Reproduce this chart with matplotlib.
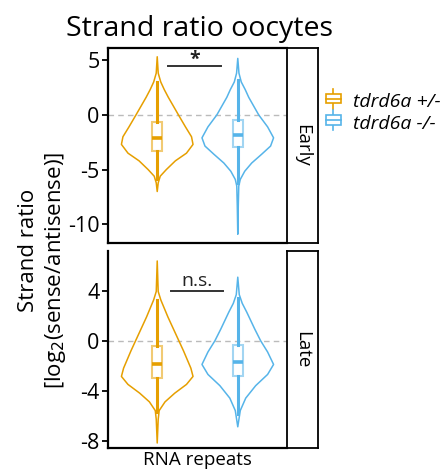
import numpy as np
import matplotlib
matplotlib.use("Agg")
import matplotlib.pyplot as plt
from matplotlib.colors import to_rgba
from matplotlib.legend_handler import HandlerBase
from matplotlib.lines import Line2D
from matplotlib.patches import Rectangle

plt.rcParams['font.family'] = ['Open Sans', 'DejaVu Sans']
plt.rcParams['axes.unicode_minus'] = False

GENOTYPES = ["tdrd6a +/-", "tdrd6a -/-"]
COLORS = ["#E69F00", "#56B4E9"]
STAGES = ["Early", "Late"]

# violin outlines: y value -> relative half-width
early_het_y = [-7.0, -6.2, -5.6, -5.0, -4.2, -3.5, -2.7, -2.0, -1.1, 0.0, 0.8, 1.6, 2.3, 3.0, 3.8, 5.3]
early_het_w = [0.0, 1.0, 3, 9, 18, 29, 35.5, 34, 28, 21, 16, 11, 7, 3.5, 1.0, 0.0]
early_ko_y = [-10.9, -8.3, -6.5, -5.9, -5.15, -4.4, -3.6, -2.85, -2.1, -1.1, 0.0, 0.8, 1.6,
              2.3, 3.0, 3.8, 5.15]
early_ko_w = [0.0, 0.5, 1.0, 2.5, 7, 14, 24, 33, 36, 30, 21, 16, 11, 7.5, 3.5, 1.2, 0.0]
late_het_y = [-8.2, -6.3, -5.6, -4.9, -4.2, -3.5, -2.86, -2.2, -0.82, 0.54, 1.9, 3.27, 3.95, 6.4]
late_het_w = [0.0, 1.0, 2, 8, 18, 30, 36.7, 34.5, 27, 19, 11, 3.7, 1.0, 0.0]
late_ko_y = [-6.9, -5.6, -4.6, -3.6, -2.7, -1.9, -0.9, 0.0, 0.95, 2.3, 3.0, 3.7, 5.1]
late_ko_w = [0.0, 2.5, 8, 18, 30, 36, 30, 23, 17, 9, 4.5, 1.5, 0.0]

# box stats: whisker low, q1, median, q3, whisker high
early_box = [[-5.9, -3.27, -2.12, -0.67, 3.0], [-6.2, -2.94, -1.85, -0.45, 3.2]]
late_box = [[-5.7, -3.0, -1.9, -0.41, 3.27], [-5.85, -2.85, -1.7, -0.35, 3.4]]

sig_labels = ["*", "n.s."]
yticks_top = [5, 0, -5, -10]
yticks_bot = [4, 0, -4, -8]

W, H = 441, 470
fig = plt.figure(figsize=(W / 100, H / 100), dpi=100)


def px_axes(l, t, r, b):
    return fig.add_axes([l / W, 1 - b / H, (r - l) / W, (b - t) / H])


class BoxKey(HandlerBase):
    def create_artists(self, legend, orig_handle, xd, yd, w, h, fontsize, trans):
        c = orig_handle.get_color()
        cx = xd + w / 2
        bw, bh = h * 0.95, h * 0.6
        y0 = yd + (h - bh) / 2
        arts = [
            Line2D([cx, cx], [yd - h * 0.15, y0], color=c, lw=1.2, transform=trans),
            Line2D([cx, cx], [y0 + bh, yd + h * 1.15], color=c, lw=1.2, transform=trans),
            Rectangle((cx - bw / 2, y0), bw, bh, facecolor="white",
                      edgecolor=c, lw=1.2, transform=trans),
            Line2D([cx - bw / 2, cx + bw / 2], [yd + h / 2] * 2, color=c, lw=1.2, transform=trans),
        ]
        return arts


def draw_panel(ax, violins, boxes, ylim, yticks, sig, sig_y, sig_x):
    positions = [0.775, 1.225]
    for (ys, ws), box, pos, col in zip(violins, boxes, positions, COLORS):
        ys = np.array(ys, dtype=float)
        ws = np.array(ws, dtype=float)
        stats = [dict(coords=ys, vals=ws, mean=box[2], median=box[2],
                      min=ys.min(), max=ys.max())]
        parts = ax.violin(stats, positions=[pos], widths=0.4, showmeans=False,
                          showextrema=False, showmedians=False)
        for body in parts["bodies"]:
            body.set_facecolor("none")
            body.set_edgecolor(col)
            body.set_linewidth(1.1)
            body.set_alpha(1)
            body.set_zorder(2)
        bstats = [dict(whislo=box[0], q1=box[1], med=box[2], q3=box[3],
                       whishi=box[4], fliers=[])]
        ax.bxp(bstats, positions=[pos], widths=0.055, showfliers=False,
               showcaps=False, patch_artist=True, manage_ticks=False,
               boxprops=dict(facecolor="white", edgecolor=to_rgba(col, 0.55), linewidth=1.5),
               whiskerprops=dict(color=col, linewidth=2.2),
               medianprops=dict(color=col, linewidth=2.6, solid_capstyle="butt"),
               zorder=3)
    ax.axhline(0, color="#BBBBBB", lw=1.0, ls=(0, (4, 3)), zorder=1)
    ax.plot(sig_x, [sig_y, sig_y], color="#333333", lw=1.4)
    if sig == "*":
        ax.text(np.mean(sig_x), sig_y + 0.55, sig, ha="center", va="center",
                fontsize=14, color="#222222", fontweight="bold")
    else:
        ax.text(np.mean(sig_x), sig_y + 0.1, sig, ha="center", va="bottom",
                fontsize=14, color="#222222")
    ax.set_xlim(0.5, 1.5)
    ax.set_ylim(*ylim)
    ax.set_yticks(yticks)
    ax.set_yticklabels([str(t) for t in yticks], fontsize=15.5)
    ax.set_xticks([])
    ax.tick_params(axis="y", length=4, width=1.3, pad=2)
    ax.spines["left"].set_linewidth(1.6)
    ax.spines["bottom"].set_linewidth(1.6)
    ax.spines["right"].set_visible(False)


ax_top = px_axes(108, 48, 287, 243)
ax_bot = px_axes(108, 251, 287, 448)
draw_panel(ax_top, [(early_het_y, early_het_w), (early_ko_y, early_ko_w)], early_box,
           (-11.7, 6.1), yticks_top, sig_labels[0], 4.5, [0.835, 1.13])
draw_panel(ax_bot, [(late_het_y, late_het_w), (late_ko_y, late_ko_w)], late_box,
           (-8.6, 7.2), yticks_bot, sig_labels[1], 4.0, [0.85, 1.14])
ax_top.spines["top"].set_linewidth(1.6)
ax_bot.spines["top"].set_visible(False)
ax_bot.set_xlabel("RNA repeats", fontsize=13.5, labelpad=2)

for (t, b), stage in zip([(48, 243), (251, 448)], STAGES):
    sax = px_axes(287, t, 318, b)
    sax.set_xticks([])
    sax.set_yticks([])
    for sp in sax.spines.values():
        sp.set_linewidth(1.3)
    sax.text(0.5, 0.5, stage, rotation=-90, ha="center", va="center", fontsize=13.5,
             transform=sax.transAxes)

fig.text(29 / W, 1 - 250 / H, "Strand ratio", rotation=90,
         ha="center", va="center", fontsize=16)
fig.text(56 / W, 1 - 270 / H, "[log$_2$(sense/antisense)]", rotation=90,
         ha="center", va="center", fontsize=16)
fig.text(199 / W, 1 - 36 / H, "Strand ratio oocytes", ha="center", va="baseline", fontsize=20.5)

handles = [Line2D([], [], color=c) for c in COLORS]
fig.legend(handles, GENOTYPES, handler_map={Line2D: BoxKey()},
           loc="upper left", bbox_to_anchor=(325 / W, 1 - 93 / H), frameon=False,
           prop=dict(style="italic", size=14), handlelength=0.85, handleheight=0.85,
           handletextpad=0.6, labelspacing=0.15, borderaxespad=0, borderpad=0)

fig.savefig("out.png", dpi=100)
